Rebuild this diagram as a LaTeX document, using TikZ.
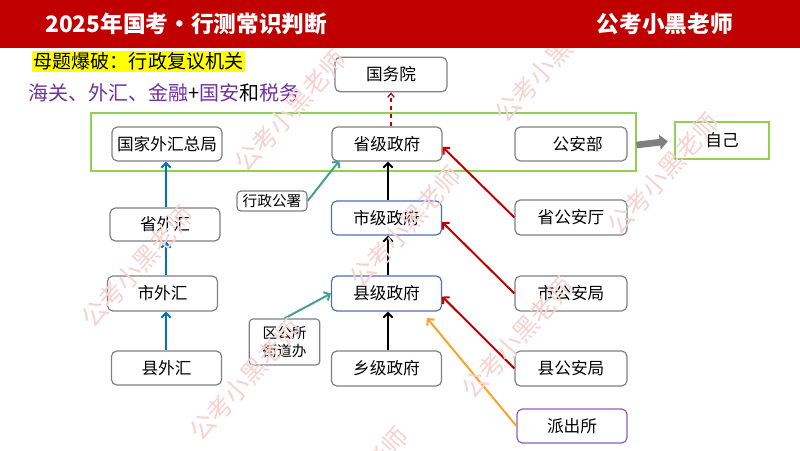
\documentclass[tikz,border=0pt]{standalone}
\usepackage{fontspec}
\usetikzlibrary{arrows.meta,calc}
\newfontfamily\cjk{Noto Sans CJK SC}
\definecolor{hdr}{HTML}{C00000}
\definecolor{purp}{HTML}{7030A0}
\definecolor{blueA}{HTML}{0070C0}
\definecolor{tealA}{HTML}{44A08E}
\definecolor{redA}{HTML}{C00000}
\definecolor{orangeA}{HTML}{F5A52A}
\definecolor{greenA}{HTML}{92D050}
\definecolor{boxgray}{HTML}{808080}
\definecolor{boxblue}{HTML}{4F6FB8}
\definecolor{boxpurp}{HTML}{8E5CC4}
\definecolor{arrgray}{HTML}{7F7F7F}
\definecolor{wmpink}{HTML}{F6D2D2}
\definecolor{hlyellow}{HTML}{FFFF00}
\tikzset{
  box/.style={draw=boxgray, line width=0.9pt, rounded corners=4pt, fill=white,
    minimum width=82.5pt, minimum height=25.5pt, inner sep=0pt,
    font=\cjk\fontsize{12.5}{14}\selectfont},
  bluebox/.style={box, draw=boxblue},
  smallbox/.style={draw=boxgray, line width=0.9pt, rounded corners=3pt, fill=white,
    inner sep=1pt, font=\cjk\fontsize{11}{14}\selectfont},
  arr/.style={line width=1.5pt, -{Straight Barb[length=3.5pt,width=7pt]}},
  wm/.style={text=wmpink, rotate=48, font=\cjk\fontsize{19}{20}\selectfont, inner sep=0pt}
}
\newcommand\wmtext{公考小黑老师}
\begin{document}
\begin{tikzpicture}[x=0.75pt,y=-0.75pt]
\useasboundingbox (0,0) rectangle (800,450);
\fill[white] (0,0) rectangle (800,450);

% subtitle lines
\node[fill=hlyellow, inner sep=1pt, anchor=west, font=\cjk\fontsize{14.3}{16}\selectfont] (hl) at (32,61.5) {母题爆破：行政复议机关};
\node[anchor=west, inner sep=0pt, font=\cjk\fontsize{15}{17}\selectfont] (sub) at (28,93)
  {\textcolor{purp}{海关、外汇、金融}+\textcolor{purp}{国安}和\textcolor{purp}{税务}};

% green frame
\draw[greenA, line width=2.2pt] (91,113) rectangle (636,171);

% nodes
\node[box, minimum width=84pt, minimum height=26pt] (gwy) at (391,74.5) {国务院};
\node[box] (gjwh) at (167,144) {国家外汇总局};
\node[box] (sjzf) at (387,144) {省级政府};
\node[box, minimum width=84pt] (gab) at (571,144) {\hspace{0.8em}公安部};
\node[draw=greenA, line width=0.9pt, minimum width=70.5pt, minimum height=27.75pt, inner sep=0pt,
  font=\cjk\fontsize{12.5}{14}\selectfont] (zj) at (722,140.5) {自己};

\node[box, minimum height=24.75pt] (swh) at (165,224.5) {省外汇};
\node[box, minimum height=26.25pt] (shiwh) at (162.5,293.5) {市外汇};
\node[box] (xwh) at (166.5,368) {县外汇};

\node[smallbox, minimum width=52.5pt, minimum height=15pt] (xzgs) at (272,201) {行政公署};
\node[bluebox] (shizf) at (386.5,218) {市级政府};
\node[bluebox, minimum height=26.25pt] (xjzf) at (386.5,293.5) {县级政府};
\node[smallbox, minimum width=53pt, minimum height=34.5pt, align=center] (qgs) at (284.5,342) {区公所\\街道办};
\node[box, minimum height=26.25pt] (xiangzf) at (386.5,368.5) {乡级政府};

\node[box, minimum width=84pt, minimum height=26.25pt] (sgat) at (571,217.5) {省公安厅};
\node[box, minimum width=84pt, minimum height=26.25pt] (sgaj) at (571,293.5) {市公安局};
\node[box, minimum width=84pt, minimum height=26.25pt] (xgaj) at (571,368.5) {县公安局};
\node[box, draw=boxpurp, minimum height=25.5pt] (pcs) at (572,426) {派出所};

\coordinate (orgtip) at (427,318);

% arrows
\draw[arr, blueA] (xwh.north -| 166,0) -- (shiwh.south -| 166,0);
\draw[arr, blueA] (shiwh.north -| 166,0) -- (swh.south -| 166,0);
\draw[arr, blueA] (swh.north -| 166,0) -- (gjwh.south -| 166,0);

\draw[arr, black] (xiangzf.north -| 388,0) -- (xjzf.south -| 388,0);
\draw[arr, black] (xjzf.north -| 388,0) -- (shizf.south -| 388,0);
\draw[arr, black] (shizf.north -| 388,0) -- (sjzf.south -| 388,0);

\draw[redA, line width=0.9pt, dashed, -{Straight Barb[length=3pt,width=5pt]}]
  (sjzf.north -| 391,0) -- (gwy.south -| 391,0);

\draw[arr, tealA] (xzgs.east) -- ($(sjzf.south west)+(8,-1)$);
\draw[arr, tealA] (qgs.north) -- (xjzf.west);

\draw[arr, redA] (sgat.west) -- ($(sjzf.east)+(0,3)$);
\draw[arr, redA] (sgaj.west) -- ($(shizf.east)+(0,4)$);
\draw[arr, redA] (xgaj.west) -- ($(xjzf.east)+(0,3)$);
\draw[arr, orangeA] (pcs.west) -- (orgtip);

\draw[arrgray, line width=5pt, -{Triangle[length=6pt,width=11pt]}, shorten >=5pt] (636.5,145) -- (zj.west);

% watermarks
\node[wm] (w1) at (290,111) {\wmtext};
\node[wm] (w2) at (550,62) {\wmtext};
\node[wm] (w3) at (405,227) {\wmtext};
\node[wm] (w4) at (663,174) {\wmtext};
\node[wm] (w5) at (137,267) {\wmtext};
\node[wm] (w6) at (245,380) {\wmtext};
\node[wm] (w7) at (517,338) {\wmtext};
\node[wm] (w8) at (352,488) {\wmtext};

% header
\fill[hdr] (0,0) rectangle (800,48);
\node[anchor=west, text=white, inner sep=0pt, font=\cjk\bfseries\fontsize{17}{19}\selectfont] (title) at (45,24) {2025年国考・行测常识判断};
\node[anchor=east, text=white, inner sep=0pt, font=\cjk\bfseries\fontsize{17}{19}\selectfont] (author) at (733,24) {公考小黑老师};
\end{tikzpicture}
\end{document}
